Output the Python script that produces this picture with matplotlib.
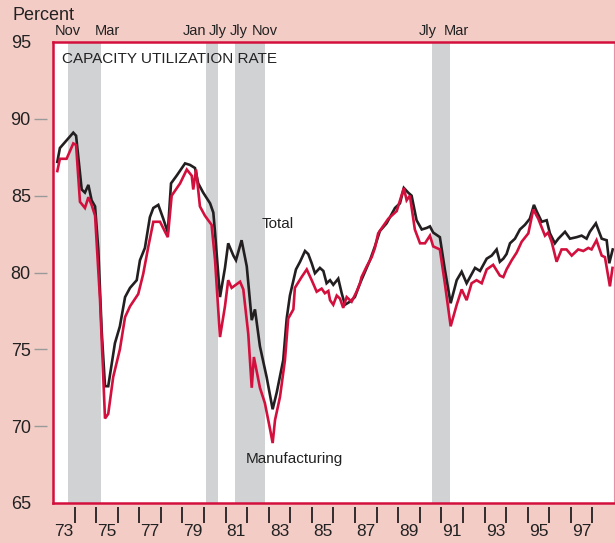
import matplotlib
matplotlib.use("Agg")
import matplotlib.pyplot as plt
import matplotlib.transforms as mtransforms

# ---------------- data ----------------
total_years = [1973.20, 1973.32, 1973.63, 1973.94, 1974.07, 1974.33, 1974.48, 1974.64, 1974.79, 1974.95,
               1975.10, 1975.26, 1975.41, 1975.56, 1975.87, 1976.10, 1976.34, 1976.57, 1976.88, 1977.03,
               1977.26, 1977.49, 1977.65, 1977.88, 1978.11, 1978.32, 1978.47, 1978.73, 1979.12, 1979.35,
               1979.58, 1979.73, 1979.96, 1980.28, 1980.43, 1980.51, 1980.74, 1980.97, 1981.12, 1981.36,
               1981.48, 1981.74, 1981.98, 1982.21, 1982.36, 1982.59, 1982.90, 1983.18, 1983.37, 1983.67,
               1983.83, 1983.98, 1984.26, 1984.45, 1984.68, 1984.83, 1984.99, 1985.14, 1985.37, 1985.53,
               1985.68, 1985.84, 1985.99, 1986.22, 1986.38, 1986.53, 1986.76, 1986.99, 1987.23, 1987.46,
               1987.69, 1987.92, 1988.15, 1988.46, 1988.85, 1989.08, 1989.26, 1989.46, 1989.62, 1989.85,
               1990.09, 1990.32, 1990.47, 1990.62, 1990.93, 1991.16, 1991.43, 1991.71, 1991.94, 1992.17,
               1992.56, 1992.79, 1993.10, 1993.33, 1993.56, 1993.71, 1993.87, 1994.02, 1994.18, 1994.41,
               1994.64, 1994.87, 1995.10, 1995.29, 1995.41, 1995.65, 1995.88, 1996.03, 1996.26, 1996.42,
               1996.73, 1996.96, 1997.27, 1997.50, 1997.73, 1997.88, 1998.16, 1998.43, 1998.66, 1998.78,
               1998.94]
total_vals = [87.2, 88.1, 88.6, 89.1, 88.9, 85.4, 85.2, 85.7, 84.7, 84.3,
              81.5, 76.1, 72.6, 72.6, 75.4, 76.5, 78.4, 79.0, 79.5, 80.8,
              81.6, 83.6, 84.2, 84.4, 83.5, 82.6, 85.8, 86.3, 87.1, 87.0,
              86.8, 85.8, 85.2, 84.5, 83.9, 82.6, 78.4, 80.3, 81.9, 81.1,
              80.8, 82.1, 80.4, 76.9, 77.6, 75.2, 73.2, 71.1, 72.2, 74.3,
              77.0, 78.5, 80.2, 80.7, 81.4, 81.2, 80.6, 79.95, 80.3, 80.1,
              79.3, 79.5, 79.2, 79.6, 78.65, 77.9, 78.1, 78.4, 79.3, 80.05,
              80.8, 81.7, 82.7, 83.2, 84.2, 84.5, 85.5, 85.2, 85.0, 83.4,
              82.8, 82.9, 83.0, 82.6, 82.3, 80.2, 78.0, 79.5, 80.05, 79.3,
              80.3, 80.1, 80.9, 81.1, 81.5, 80.7, 80.9, 81.2, 81.9, 82.2,
              82.8, 83.1, 83.5, 84.4, 84.0, 83.3, 83.4, 82.55, 81.9, 82.2,
              82.65, 82.2, 82.3, 82.4, 82.2, 82.65, 83.2, 82.2, 82.1, 80.6,
              81.5]

mfg_years = [1973.20, 1973.32, 1973.63, 1973.94, 1974.07, 1974.25, 1974.48, 1974.64, 1974.79, 1974.95,
             1975.18, 1975.41, 1975.56, 1975.79, 1976.10, 1976.34, 1976.57, 1976.95, 1977.18, 1977.42,
             1977.65, 1977.96, 1978.32, 1978.50, 1978.89, 1979.20, 1979.43, 1979.50, 1979.63, 1979.81,
             1980.04, 1980.35, 1980.51, 1980.74, 1980.97, 1981.12, 1981.28, 1981.67, 1981.82, 1982.05,
             1982.21, 1982.31, 1982.59, 1982.82, 1983.06, 1983.18, 1983.29, 1983.52, 1983.75, 1983.90,
             1984.14, 1984.21, 1984.52, 1984.76, 1984.99, 1985.22, 1985.45, 1985.60, 1985.76, 1985.84,
             1985.99, 1986.15, 1986.30, 1986.45, 1986.61, 1986.84, 1987.07, 1987.23, 1987.30, 1987.54,
             1987.77, 1987.92, 1988.07, 1988.54, 1988.93, 1989.26, 1989.39, 1989.54, 1989.77, 1990.01,
             1990.24, 1990.47, 1990.62, 1990.93, 1991.16, 1991.43, 1991.71, 1991.94, 1992.17, 1992.40,
             1992.63, 1992.87, 1993.10, 1993.40, 1993.71, 1993.87, 1994.02, 1994.26, 1994.49, 1994.72,
             1995.03, 1995.26, 1995.49, 1995.80, 1995.95, 1996.11, 1996.34, 1996.57, 1996.80, 1997.04,
             1997.34, 1997.58, 1997.81, 1997.96, 1998.19, 1998.43, 1998.58, 1998.81, 1998.93]
mfg_vals = [86.6, 87.4, 87.4, 88.4, 88.3, 84.6, 84.2, 84.9, 84.4, 83.7,
            78.2, 70.5, 70.8, 73.2, 75.0, 77.1, 77.8, 78.6, 79.9, 81.7,
            83.3, 83.3, 82.3, 85.0, 85.8, 86.7, 86.3, 85.4, 86.7, 84.3,
            83.7, 83.1, 80.8, 75.8, 77.8, 79.5, 79.0, 79.4, 78.9, 76.0,
            72.5, 74.5, 72.5, 71.5, 69.8, 68.9, 70.4, 71.9, 74.3, 77.0,
            77.6, 79.0, 79.7, 80.2, 79.5, 78.75, 78.95, 78.65, 78.8, 78.2,
            77.9, 78.5, 78.3, 77.7, 78.4, 78.1, 78.75, 79.3, 79.7, 80.4,
            81.0, 81.6, 82.55, 83.5, 84.0, 85.5, 84.7, 85.0, 82.8, 81.9,
            81.9, 82.4, 81.7, 81.5, 79.3, 76.5, 77.9, 78.9, 78.2, 79.3,
            79.5, 79.3, 80.2, 80.5, 79.8, 79.7, 80.2, 80.8, 81.3, 82.0,
            82.55, 84.1, 83.5, 82.4, 82.6, 82.0, 80.7, 81.5, 81.5, 81.1,
            81.5, 81.4, 81.6, 81.5, 82.1, 81.1, 81.0, 79.1, 80.3]

recession_starts = [1973.71, 1980.08, 1981.43, 1990.56]
recession_ends = [1975.22, 1980.65, 1982.83, 1991.40]
recession_labels = ["Nov", "Mar", "Jan", "Jly", "Jly", "Nov", "Jly", "Mar"]
recession_label_pos = [1973.68, 1975.50, 1979.58, 1980.65, 1981.62, 1982.82, 1990.38, 1991.71]

year_ticks = list(range(1974, 1999))
year_labels = ["73", "75", "77", "79", "81", "83", "85", "87", "89", "91", "93", "95", "97"]
year_label_pos = [1973.5, 1975.5, 1977.5, 1979.5, 1981.5, 1983.5, 1985.5, 1987.5, 1989.5,
                  1991.5, 1993.5, 1995.5, 1997.5]
y_labels = [65, 70, 75, 80, 85, 90, 95]
y_marks = [70, 75, 80, 85, 90]

# ---------------- style ----------------
PINK = "#F4CCC6"
RED = "#D3103D"
BLACK = "#231F20"
GREY = "#D1D2D4"
FONT = "Liberation Sans"

W, H = 615, 543
fig = plt.figure(figsize=(W / 100, H / 100), dpi=100, facecolor=PINK)
ax = fig.add_axes([53 / W, (H - 503) / H, (614 - 53) / W, (503 - 42) / H])
ax.set_facecolor("white")
ax.set_xlim(1973.0, 1999.0)
ax.set_ylim(65, 95)

for s, e in zip(recession_starts, recession_ends):
    ax.axvspan(s, e, color=GREY, lw=0, zorder=1)

ax.plot(total_years, total_vals, color=BLACK, lw=1.9, zorder=3, solid_joinstyle="miter")
ax.plot(mfg_years, mfg_vals, color=RED, lw=1.9, zorder=4, solid_joinstyle="miter")

# spines
for side in ["left", "top", "bottom"]:
    ax.spines[side].set_color(RED)
    ax.spines[side].set_linewidth(1.8)
ax.spines["right"].set_color("#E890A8")
ax.spines["right"].set_linewidth(0.8)

# y tick labels
ax.set_yticks(y_labels)
ax.set_yticklabels([str(v) for v in y_labels], fontsize=13, family=FONT, color="#222222")
ax.tick_params(axis="y", length=0, pad=16)
# grey y marks with a gap from the axis
ytr = mtransforms.blended_transform_factory(ax.transAxes, ax.transData)
ax.hlines(y_marks, -0.033, -0.011, transform=ytr, color="#999999", lw=1.0, clip_on=False)

# x ticks: labels centered mid-year, tick marks at year starts with a gap
ax.set_xticks(year_label_pos)
ax.set_xticklabels(year_labels, fontsize=12.5, family=FONT, color="#222222")
ax.tick_params(axis="x", length=0, pad=15)
xtr = mtransforms.blended_transform_factory(ax.transData, ax.transAxes)
ax.vlines(year_ticks, -4 / 461, -20 / 461, transform=xtr, color=BLACK, lw=1.3, clip_on=False)

# recession labels above the plot
for lab, pos in zip(recession_labels, recession_label_pos):
    ax.text(pos, 1.0 + 11 / 461, lab, transform=xtr, ha="center", va="center",
            fontsize=10.5, family=FONT, color="#222222", clip_on=False)

# texts
fig.text(12 / W, 1 - 20 / H, "Percent", fontsize=13, family=FONT, color="#222222",
         ha="left", va="baseline")
ax.text(1973.42, 93.9, "CAPACITY UTILIZATION RATE", fontsize=11, family=FONT,
        color="#222222", ha="left", va="center", zorder=5)
ax.text(1982.68, 83.16, "Total", fontsize=11, family=FONT, color="#222222",
        ha="left", va="center", zorder=5)
ax.text(1981.94, 67.87, "Manufacturing", fontsize=11, family=FONT, color="#222222",
        ha="left", va="center", zorder=5)

fig.savefig("out.png", dpi=100, facecolor=PINK)
